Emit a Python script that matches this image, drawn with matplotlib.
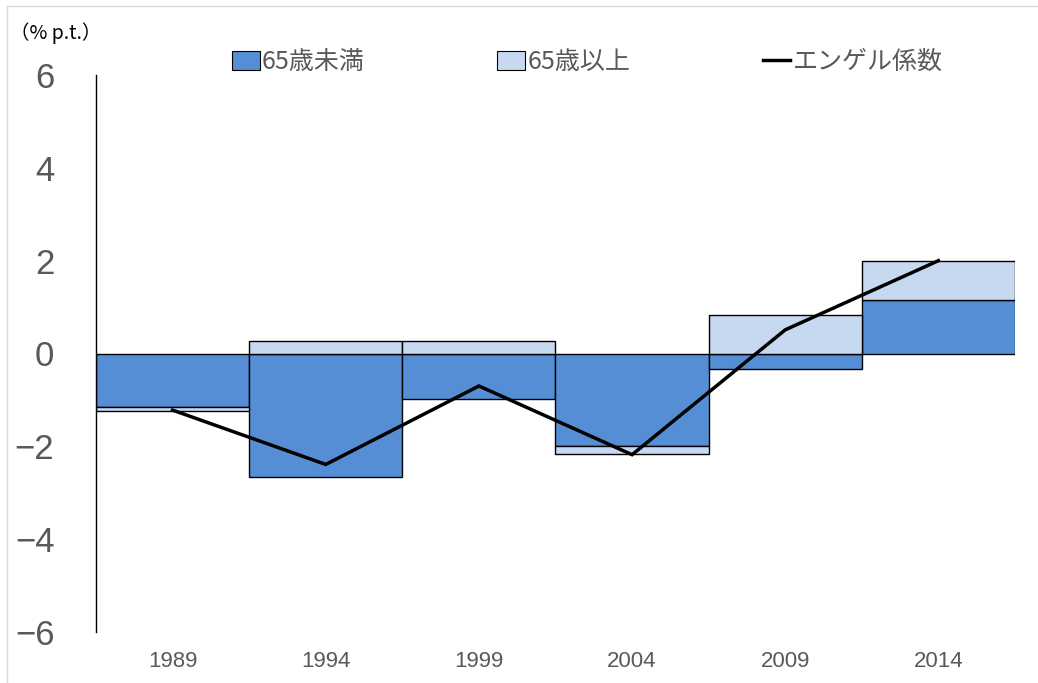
import numpy as np
import matplotlib
matplotlib.use("Agg")
from matplotlib import pyplot as plt
from matplotlib.lines import Line2D

plt.rcParams['font.family'] = ['Noto Sans CJK JP', 'DejaVu Sans']

years = ["1989", "1994", "1999", "2004", "2009", "2014"]
under65 = [-1.16, -2.65, -0.97, -2.00, -0.33, 1.16]   # 65歳未満
over65 = [-0.07, 0.26, 0.28, -0.17, 0.84, 0.84]       # 65歳以上
engel = [-1.22, -2.39, -0.70, -2.18, 0.51, 2.00]      # エンゲル係数

col_under = "#558ED5"
col_over = "#C6D9F1"
grey = "#595959"

fig = plt.figure(figsize=(10.38, 6.83), dpi=100)
ax = fig.add_axes([96/1038, 1-632/683, (1015-96)/1038, (632-75)/683])

x = np.arange(len(years))
under = np.array(under65)
over = np.array(over65)
# stack the second series on the same side as the first
bottom_over = np.where(np.sign(over) == np.sign(under), under, 0.0)

ax.bar(x, under, width=1.0, color=col_under, edgecolor="black", linewidth=1.0)
ax.bar(x, over, width=1.0, bottom=bottom_over, color=col_over, edgecolor="black", linewidth=1.0)
ax.plot(x, engel, color="black", linewidth=2.5, solid_joinstyle="miter")

ax.set_xlim(-0.5, len(years) - 0.5)
ax.set_ylim(-6, 6)
ax.set_yticks([-6, -4, -2, 0, 2, 4, 6])
ax.set_yticklabels(["−6", "−4", "−2", "0", "2", "4", "6"])
ax.set_xticks(x)
ax.set_xticklabels(years)
ax.tick_params(axis="y", length=0, labelsize=25, labelcolor=grey, pad=30)
ax.tick_params(axis="x", length=0, labelsize=16, labelcolor=grey, pad=14)
for lab in ax.get_yticklabels() + ax.get_xticklabels():
    lab.set_family(["Liberation Sans", "DejaVu Sans"])
for s in ["top", "right", "bottom"]:
    ax.spines[s].set_visible(False)
ax.spines["left"].set_color("black")
ax.spines["left"].set_linewidth(1.0)

fig.text(10/1038, 1-33/683, "（% p.t.）", fontsize=14, color="black", va="center", ha="left")

handles = [
    plt.Rectangle((0, 0), 1, 1, facecolor=col_under, edgecolor="black", linewidth=0.8),
    plt.Rectangle((0, 0), 1, 1, facecolor=col_over, edgecolor="black", linewidth=0.8),
    Line2D([0], [0], color="black", linewidth=2.5),
]
fig.legend(handles, ["65歳未満", "65歳以上", "エンゲル係数"], loc="center left",
           bbox_to_anchor=(232/1038, 1-62/683), ncol=3, frameon=False,
           fontsize=18, labelcolor=grey, handlelength=1.1, handleheight=0.8,
           handletextpad=0.1, columnspacing=5.3, borderaxespad=0, borderpad=0)

# light frame lines along the top and left edges
fig.add_artist(Line2D([7/1038, 1], [1-6/683, 1-6/683], color="#D9D9D9", linewidth=1.0))
fig.add_artist(Line2D([7/1038, 7/1038], [0, 1-6/683], color="#D9D9D9", linewidth=1.0))

fig.savefig("out.png", dpi=100)
